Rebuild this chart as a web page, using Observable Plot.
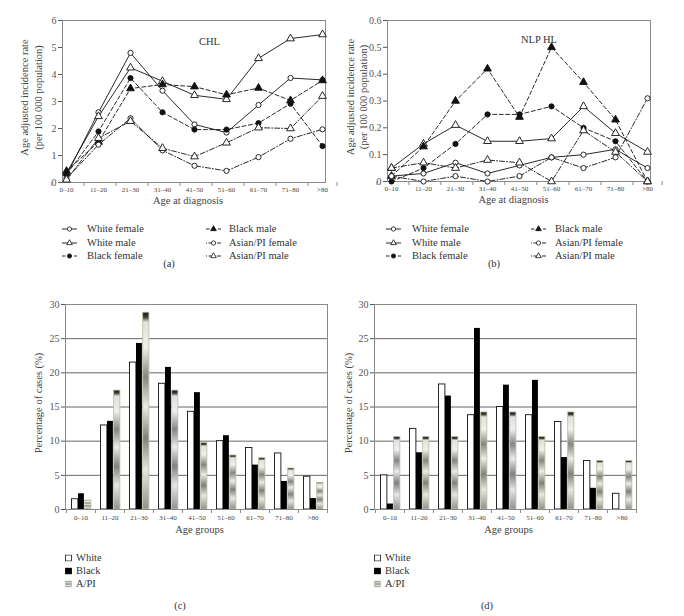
<!DOCTYPE html>
<html><head><meta charset="utf-8">
<script src="https://cdn.jsdelivr.net/npm/d3@7"></script>
<script src="https://cdn.jsdelivr.net/npm/@observablehq/plot@0.6"></script>
<style>
body{margin:0;background:#fff;font-family:"Liberation Serif","Times New Roman",serif;color:#333}
#page{position:relative;width:684px;height:616px;overflow:hidden;background:#fff}
.panel{position:absolute}
.lab{position:absolute;font-size:10.5px;white-space:nowrap;line-height:1;transform:translateY(-50%);color:#333}
.cap{transform:translate(-50%,-50%)}
.sw{position:absolute;transform:translateY(-50%)}
</style></head><body>
<svg width="0" height="0" style="position:absolute">
  <defs>
    <linearGradient id="apiGrad" x1="0" y1="0" x2="0" y2="1">
      <stop offset="0" stop-color="#1a1a1a"/>
      <stop offset="0.025" stop-color="#3a3a3a"/>
      <stop offset="0.05" stop-color="#e0e0e0"/>
      <stop offset="0.18" stop-color="#efefef"/>
      <stop offset="0.33" stop-color="#858585"/>
      <stop offset="0.48" stop-color="#ebebeb"/>
      <stop offset="0.64" stop-color="#808080"/>
      <stop offset="0.8" stop-color="#e6e6e6"/>
      <stop offset="1" stop-color="#909090"/>
    </linearGradient>
    <linearGradient id="apiLeg" x1="0" y1="0" x2="0" y2="1">
      <stop offset="0" stop-color="#888"/><stop offset="0.3" stop-color="#ddd"/>
      <stop offset="0.5" stop-color="#888"/><stop offset="0.75" stop-color="#ddd"/><stop offset="1" stop-color="#888"/>
    </linearGradient>
  </defs>
</svg>
<div id="page"></div>
<script>
// ---------- data ----------
const ageGroups = ["0–10","11–20","21–30","31–40","41–50","51–60","61–70","71–80",">80"];
const seriesNames = ["White female","White male","Black female","Black male","Asian/PI female","Asian/PI male"];

// (a) CHL age adjusted incidence rate per 100 000
const chlWhiteFemale = [0.27, 2.6, 4.8, 3.4, 2.15, 1.85, 2.87, 3.87, 3.8];
const chlWhiteMale   = [0.35, 2.45, 4.25, 3.75, 3.23, 3.08, 4.6, 5.33, 5.48];
const chlBlackFemale = [0.3, 1.89, 3.87, 2.6, 1.96, 1.96, 2.2, 2.92, 1.35];
const chlBlackMale   = [0.42, 1.5, 3.48, 3.63, 3.55, 3.25, 3.5, 3.04, 3.78];
const chlAsianFemale = [0.15, 1.4, 2.38, 1.19, 0.62, 0.43, 0.94, 1.62, 1.97];
const chlAsianMale   = [0.1, 1.64, 2.27, 1.27, 0.96, 1.47, 2.03, 2.0, 3.2];

// (b) NLP HL age adjusted incidence rate per 100 000
const nlpWhiteFemale = [0.02, 0.03, 0.07, 0.03, 0.06, 0.09, 0.10, 0.12, 0.05];
const nlpWhiteMale   = [0.05, 0.14, 0.21, 0.15, 0.15, 0.16, 0.28, 0.18, 0.11];
const nlpBlackFemale = [0.0, 0.05, 0.14, 0.25, 0.25, 0.28, 0.2, 0.15, 0.0];
const nlpBlackMale   = [0.02, 0.13, 0.30, 0.42, 0.24, 0.50, 0.37, 0.23, 0.0];
const nlpAsianFemale = [0.02, 0.0, 0.02, 0.0, 0.02, 0.09, 0.05, 0.09, 0.31];
const nlpAsianMale   = [0.05, 0.07, 0.05, 0.08, 0.07, 0.0, 0.19, 0.11, 0.0];

// (c) CHL percentage of cases
const raceNames = ["White","Black","A/PI"];
const chlWhite = [1.5, 12.3, 21.5, 18.4, 14.3, 10.0, 9.0, 8.2, 4.8];
const chlBlack = [2.3, 12.9, 24.3, 20.8, 17.1, 10.8, 6.5, 4.1, 1.6];
const chlAPI   = [1.3, 17.4, 28.8, 17.4, 9.7, 7.9, 7.5, 6.0, 3.9];
// (d) NLP HL percentage of cases
const nlpWhite = [5.0, 11.8, 18.3, 13.8, 15.0, 13.8, 12.8, 7.1, 2.3];
const nlpBlack = [0.8, 8.3, 16.6, 26.5, 18.2, 18.9, 7.6, 3.1, 0];
const nlpAPI   = [10.6, 10.6, 10.6, 14.2, 14.2, 10.6, 14.2, 7.1, 7.1];

// tick labels
const chlRateTicks = [0, 1, 2, 3, 4, 5, 6];
const nlpRateTicks = [0, 0.1, 0.2, 0.3, 0.4, 0.5, 0.6];
const pctTicks = [0, 5, 10, 15, 20, 25, 30];
const pctGrid = [5, 10, 15, 20, 25];

// ---------- styles ----------
const seriesDash = [null, null, "4,2.5", "4,2.5", "5,2,1,2", "5,2,1,2"];
const seriesSymbol = ["circle","triangle","circle","triangle","circle","triangle"];
const seriesFill = ["white","white","#111","#111","white","white"];
const FONT = "'Liberation Serif','Times New Roman',serif";
const FRAME = "#8a8a8a";

const page = document.getElementById("page");
function place(el, left, top) {
  const d = document.createElement("div");
  d.className = "panel"; d.style.left = left + "px"; d.style.top = top + "px";
  d.appendChild(el); page.appendChild(d);
}
function label(text, x, y, cls) {
  const d = document.createElement("div");
  d.className = "lab" + (cls ? " " + cls : "");
  d.style.left = x + "px"; d.style.top = y + "px"; d.textContent = text;
  page.appendChild(d);
}

function lineChart(o) {
  const H = 215, mt = 20;
  const bw = (o.width - o.ml - o.mr) / ageGroups.length;
  const yMax = o.yTicks[o.yTicks.length - 1];
  const tk = 4 * yMax / (H - mt - o.mb);
  const marks = [
    Plot.frame({stroke: FRAME}),
    Plot.axisY(o.yTicks, {tickSize: 4, tickPadding: 2, tickFormat: o.yFormat, fontSize: 10, color: "#555", label: null}),
    Plot.axisX({tickSize: 0, tickPadding: 5, fontSize: 7, color: "#444", label: null}),
    Plot.ruleX(ageGroups, {x: d => d, dx: -bw / 2, y1: 0, y2: -tk, stroke: FRAME}),
    Plot.ruleX(ageGroups.slice(-1), {x: d => d, dx: bw / 2, y1: 0, y2: -tk, stroke: FRAME})
  ];
  const rows = seriesNames.map((s, si) => ageGroups.map((a, i) => ({series: s, age: a, value: o.values[si][i]})));
  rows.forEach((r, si) => marks.push(Plot.line(r, {x: "age", y: "value", stroke: "#111", strokeWidth: 0.9, strokeDasharray: seriesDash[si] || undefined})));
  rows.forEach((r, si) => marks.push(Plot.dot(r, {x: "age", y: "value", symbol: seriesSymbol[si], r: seriesSymbol[si] === "triangle" ? 2.9 : 2.6, fill: seriesFill[si], stroke: "#111", strokeWidth: 0.9})));
  marks.push(
    Plot.text([o.title], {text: d => d, frameAnchor: "top", dx: o.titleDx, dy: o.titleDy, fontSize: 10.5, fill: "#333"}),
    Plot.text(["Age adjusted incidence rate\n(per 100 000 population)"], {text: d => d, frameAnchor: "left", textAnchor: "middle", rotate: -90, dx: o.ytDx, dy: -4, fontSize: 10.5, lineHeight: 1.3, fill: "#444"}),
    Plot.text(["Age at diagnosis"], {text: d => d, frameAnchor: "bottom", dx: o.xtDx, dy: 21, fontSize: 10.5, fill: "#444"})
  );
  return Plot.plot({
    width: o.width, height: H, marginLeft: o.ml, marginRight: o.mr, marginTop: mt, marginBottom: o.mb,
    x: {domain: ageGroups, padding: 0},
    y: {domain: [0, yMax]},
    style: {fontFamily: FONT, background: "transparent", overflow: "visible"},
    marks
  });
}

function barChart(o) {
  const H = 260, mt = 20, mb = 35;
  const bw = (o.width - o.ml - o.mr) / ageGroups.length;
  const tk = 4 * 30 / (H - mt - mb);
  const mk = arr => ageGroups.map((a, i) => ({age: a, value: arr[i]}));
  return Plot.plot({
    width: o.width, height: H, marginLeft: o.ml, marginRight: o.mr, marginTop: mt, marginBottom: mb,
    x: {domain: ageGroups, padding: 0},
    y: {domain: [0, 30]},
    style: {fontFamily: FONT, background: "transparent", overflow: "visible"},
    marks: [
      Plot.ruleY(pctGrid, {stroke: "#555", strokeWidth: 0.9}),
      Plot.barY(mk(o.white), {x: "age", y: "value", fill: "white", stroke: "#111", strokeWidth: 0.9, insetLeft: 5.5, insetRight: bw - 12}),
      Plot.barY(mk(o.black), {x: "age", y: "value", fill: "#000", insetLeft: 12, insetRight: bw - 18}),
      Plot.barY(mk(o.api), {x: "age", y: "value", fill: "url(#apiGrad)", stroke: "#b5c096", strokeWidth: 0.8, insetLeft: 18.7, insetRight: bw - 25}),
      Plot.frame({stroke: FRAME}),
      Plot.axisY(pctTicks, {tickSize: 4, tickPadding: 2, fontSize: 10, color: "#555", label: null}),
      Plot.axisX({tickSize: 0, tickPadding: 6, fontSize: 7, color: "#444", label: null}),
      Plot.ruleX(ageGroups, {x: d => d, dx: -bw / 2, y1: 0, y2: -tk, stroke: FRAME}),
      Plot.ruleX(ageGroups.slice(-1), {x: d => d, dx: bw / 2, y1: 0, y2: -tk, stroke: FRAME}),
      Plot.text(["Percentage of cases (%)"], {text: d => d, frameAnchor: "left", textAnchor: "middle", rotate: -90, dx: o.ytDx, dy: -4, fontSize: 10.5, fill: "#444"}),
      Plot.text(["Age groups"], {text: d => d, frameAnchor: "bottom", dx: o.xtDx, dy: 23, fontSize: 10.5, fill: "#444"})
    ]
  });
}

place(lineChart({width: 342, ml: 62, mr: 17, mb: 33, yTicks: chlRateTicks, yFormat: d => String(d),
  values: [chlWhiteFemale, chlWhiteMale, chlBlackFemale, chlBlackMale, chlAsianFemale, chlAsianMale],
  title: "CHL", titleDx: 15.5, titleDy: 17, ytDx: -32, xtDx: -6}), 0, 0);
place(lineChart({width: 342, ml: 45, mr: 34, mb: 34, yTicks: nlpRateTicks, yFormat: d => d === 0 ? "0" : d.toFixed(1),
  values: [nlpWhiteFemale, nlpWhiteMale, nlpBlackFemale, nlpBlackMale, nlpAsianFemale, nlpAsianMale],
  title: "NLP HL", titleDx: 20, titleDy: 15, ytDx: -31.5, xtDx: -5.5}), 342, 0);
place(barChart({width: 342, ml: 65, mr: 15, white: chlWhite, black: chlBlack, api: chlAPI, ytDx: -27, xtDx: 3}), 0, 284);
place(barChart({width: 342, ml: 32, mr: 48, white: nlpWhite, black: nlpBlack, api: nlpAPI, ytDx: -26, xtDx: 3}), 342, 284);

// ---------- legends ----------
const NS = "http://www.w3.org/2000/svg";
function lineSwatch(si, x, y) {
  const s = document.createElementNS(NS, "svg");
  s.setAttribute("width", 15); s.setAttribute("height", 8);
  s.setAttribute("class", "sw"); s.style.left = x + "px"; s.style.top = y + "px";
  const l = document.createElementNS(NS, "line");
  l.setAttribute("x1", 0); l.setAttribute("x2", 15); l.setAttribute("y1", 4); l.setAttribute("y2", 4);
  l.setAttribute("stroke", "#111"); l.setAttribute("stroke-width", 0.9);
  if (seriesDash[si]) l.setAttribute("stroke-dasharray", si >= 4 ? "1,1.5,4,2" : "3.5,2.5");
  s.appendChild(l);
  const p = document.createElementNS(NS, "path");
  p.setAttribute("d", d3.symbol(seriesSymbol[si] === "triangle" ? d3.symbolTriangle : d3.symbolCircle, 14)());
  p.setAttribute("transform", "translate(7.5,4)");
  p.setAttribute("fill", seriesFill[si]); p.setAttribute("stroke", "#111"); p.setAttribute("stroke-width", 0.8);
  s.appendChild(p);
  page.appendChild(s);
}
function lineLegend(c1, t1, c2, t2, rowsY) {
  seriesNames.forEach((name, si) => {
    const col = si < 3 ? 0 : 1, row = si % 3;
    lineSwatch(si, col ? c2 : c1, rowsY[row]);
    label(name, col ? t2 : t1, rowsY[row]);
  });
}
lineLegend(62, 87, 206, 229, [229, 242.5, 256]);
lineLegend(386, 412, 531, 555, [229, 242.5, 256]);
label("(a)", 169, 264, "cap");
label("(b)", 494, 264, "cap");

function barLegend(sx, tx, rowsY) {
  const fills = ["white", "#000", "url(#apiLeg)"];
  const strokes = ["#111", "#000", "#b5c096"];
  raceNames.forEach((name, i) => {
    const s = document.createElementNS(NS, "svg");
    s.setAttribute("width", 7); s.setAttribute("height", 7);
    s.setAttribute("class", "sw"); s.style.left = sx + "px"; s.style.top = rowsY[i] + "px";
    const r = document.createElementNS(NS, "rect");
    r.setAttribute("x", 0.5); r.setAttribute("y", 0.5); r.setAttribute("width", 6); r.setAttribute("height", 6);
    r.setAttribute("fill", fills[i]); r.setAttribute("stroke", strokes[i]); r.setAttribute("stroke-width", 0.8);
    s.appendChild(r); page.appendChild(s);
    label(name, tx, rowsY[i]);
  });
}
barLegend(65, 76, [558, 571, 584]);
barLegend(374, 385, [558, 571, 584]);
label("(c)", 180, 606, "cap");
label("(d)", 487, 606, "cap");
</script>
</body></html>
